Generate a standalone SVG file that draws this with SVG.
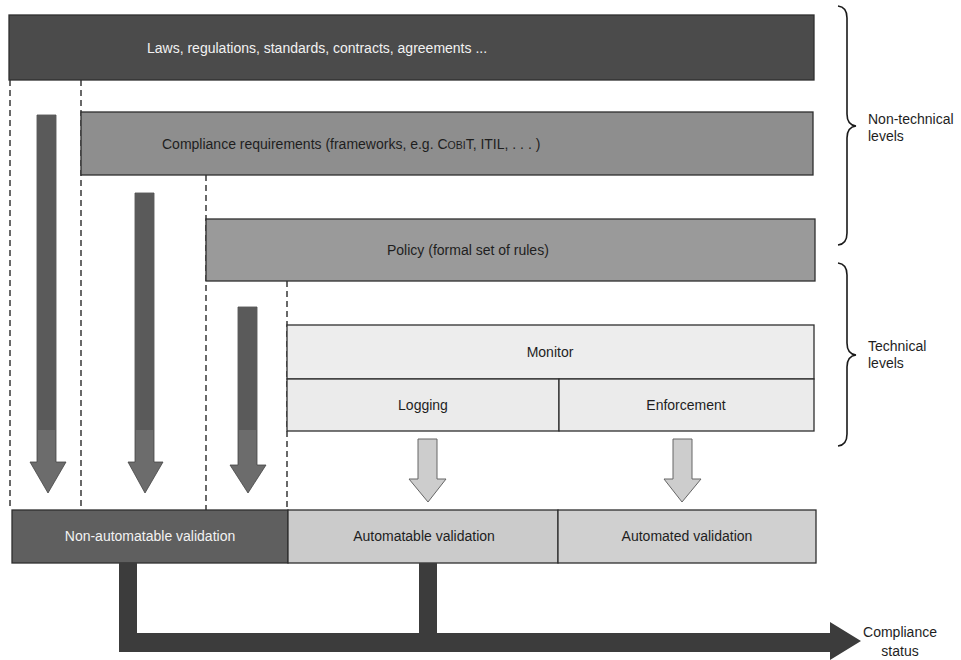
<svg xmlns="http://www.w3.org/2000/svg" width="961" height="660" viewBox="0 0 961 660">
<style>
  text { font-family: "Liberation Sans", Arial, sans-serif; font-size: 14px; fill: #1e1e1e; }
  .wt { fill: #f2f2f2; }
  .mid { text-anchor: middle; }
  .box { stroke: #2e2e2e; stroke-width: 1.3; }
  .dash { stroke: #2a2a2a; stroke-width: 1.4; stroke-dasharray: 6 4; fill: none; }
  .darr { fill: #6c6c6c; stroke: #444; stroke-width: 0.8; }
  .darrtop { fill: #5a5a5a; }
  .larr { fill: #cdcdcd; stroke: #666; stroke-width: 1; }
  .brace { fill: none; stroke: #1a1a1a; stroke-width: 1.6; }
  .conn { fill: #3c3c3c; }
</style>
<rect width="961" height="660" fill="#ffffff"/>

<g id="dashed-lines">
  <line class="dash" x1="10" y1="80" x2="10" y2="510"/>
  <line class="dash" x1="81" y1="80" x2="81" y2="510"/>
  <line class="dash" x1="206" y1="175" x2="206" y2="510"/>
  <line class="dash" x1="287" y1="281" x2="287" y2="510"/>
</g>

<g id="laws">
  <rect class="box" x="9" y="15" width="805" height="65" fill="#4b4b4b"/>
  <text class="wt" x="147" y="53">Laws, regulations, standards, contracts, agreements ...</text>
</g>
<g id="compliance-requirements">
  <rect class="box" x="81" y="112" width="732" height="63" fill="#8e8e8e"/>
  <text x="162" y="149">Compliance requirements (frameworks, e.g. C<tspan font-size="10.5">OBI</tspan>T, ITIL, . . . )</text>
</g>
<g id="policy">
  <rect class="box" x="206" y="219" width="609" height="62" fill="#9a9a9a"/>
  <text x="387" y="255">Policy (formal set of rules)</text>
</g>
<g id="monitor">
  <rect class="box" x="287" y="325" width="527" height="54" fill="#ededed"/>
  <text class="mid" x="550" y="357">Monitor</text>
</g>
<g id="logging">
  <rect class="box" x="287" y="379" width="272" height="52" fill="#ebebeb"/>
  <text class="mid" x="423" y="410">Logging</text>
</g>
<g id="enforcement">
  <rect class="box" x="559" y="379" width="255" height="52" fill="#ebebeb"/>
  <text class="mid" x="686" y="410">Enforcement</text>
</g>

<g id="non-automatable-validation">
  <rect class="box" x="12" y="510" width="276" height="53" fill="#5f5f5f"/>
  <text class="mid wt" x="150" y="541">Non-automatable validation</text>
</g>
<g id="automatable-validation">
  <rect class="box" x="288" y="510" width="270" height="53" fill="#cbcbcb"/>
  <text class="mid" x="424" y="541">Automatable validation</text>
</g>
<g id="automated-validation">
  <rect class="box" x="558" y="510" width="258" height="53" fill="#d0d0d0"/>
  <text class="mid" x="687" y="541">Automated validation</text>
</g>

<g id="braces">
  <path class="brace" d="M838 6 Q847 7 847 18 L847 114 Q847 125 856 126 Q847 127 847 138 L847 233 Q847 244 838 245"/>
  <text x="868" y="124">Non-technical</text>
  <text x="868" y="141">levels</text>
  <path class="brace" d="M838 263 Q847 264 847 275 L847 343 Q847 354 856 355 Q847 356 847 367 L847 434 Q847 445 838 446"/>
  <text x="868" y="351">Technical</text>
  <text x="868" y="368">levels</text>
</g>

<g id="connectors">
  <polygon class="darr" points="37,115 56,115 56,462 66,462 48,493 30,462 37,462"/>
  <rect class="darrtop" x="37.4" y="115.4" width="18.2" height="314.6"/>
  <polygon class="darr" points="135,193 154,193 154,462 163,462 145,493 128,462 135,462"/>
  <rect class="darrtop" x="135.4" y="193.4" width="18.2" height="236.6"/>
  <polygon class="darr" points="238,307 257,307 257,465 266,465 248,493 230,465 238,465"/>
  <rect class="darrtop" x="238.4" y="307.4" width="18.2" height="122.6"/>

  <polygon class="larr" points="418,439 437,439 437,479 446,479 428,502 409,479 418,479"/>
  <polygon class="larr" points="673,439 692,439 692,479 701,479 682,502 664,479 673,479"/>

  <rect class="conn" x="119" y="563" width="18" height="89"/>
  <rect class="conn" x="419" y="563" width="18" height="76"/>
  <polygon class="conn" points="119,633 830,633 830,622 861,641 830,660 830,652 119,652"/>
  <text class="mid" x="900" y="637">Compliance</text>
  <text class="mid" x="900" y="656">status</text>
</g>
</svg>
